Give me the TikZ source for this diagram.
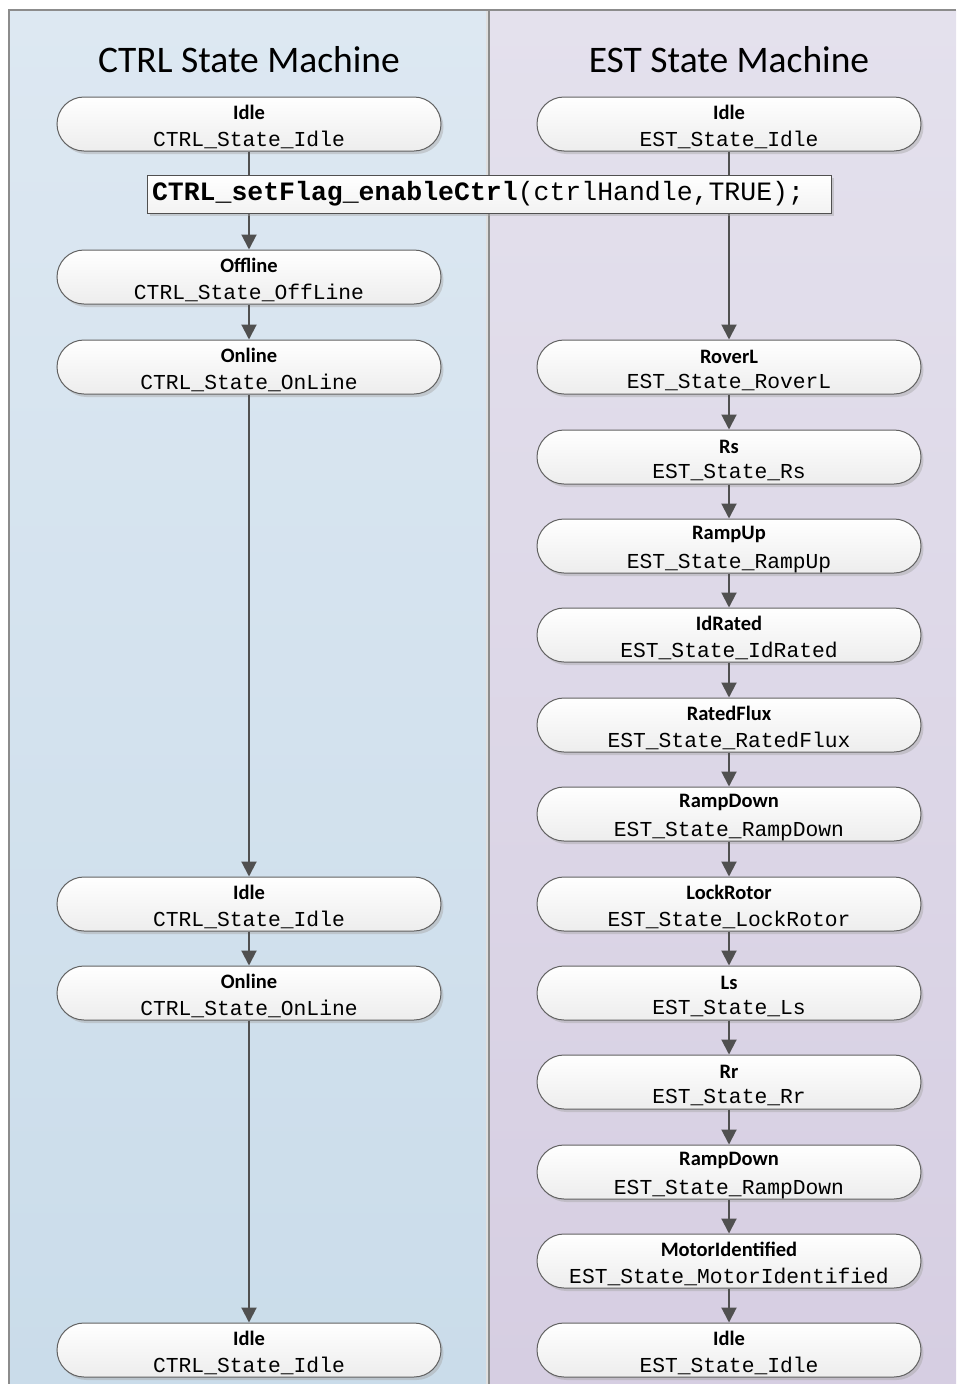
\documentclass[tikz,border=0pt]{standalone}
\usepackage{fontspec}
\setmainfont{Carlito}
\setmonofont{Liberation Mono}
\usetikzlibrary{arrows.meta,shadows}
\definecolor{ctrlcol}{HTML}{DDE8F2}
\definecolor{ctrlcolb}{HTML}{CADCEA}
\definecolor{estcol}{HTML}{E4E1ED}
\definecolor{estcolb}{HTML}{D6CEE2}
\definecolor{edgecol}{HTML}{505050}
\definecolor{framecol}{HTML}{8C8C8C}
\newcommand{\stname}[2]{{\fontsize{20.5}{21}\selectfont\bfseries\rule{0pt}{20pt}#1}\\[10pt]{\fontsize{21.3}{22}\selectfont\ttfamily #2}}

\begin{document}
\begin{tikzpicture}[x=1pt, y=-1pt,
  state/.style={draw=edgecol!90, line width=1pt, rounded corners=27pt, minimum width=384pt, minimum height=54pt, inner sep=0pt, align=center, top color=white, bottom color=black!7, drop shadow={shadow xshift=2.5pt, shadow yshift=-3pt, fill=black!35, opacity=0.45}},
  flow/.style={-{Triangle[length=15pt,width=15pt]}, line width=2pt, edgecol}]
\useasboundingbox (0,0) rectangle (956,1384);
% swim lanes
\fill[top color=ctrlcol, bottom color=ctrlcolb] (9,10) rectangle (489,1384);
\fill[top color=estcol, bottom color=estcolb] (489,10) rectangle (956,1384);
\fill[black!12] (486,10) rectangle (488,1384);
\draw[framecol, line width=1.5pt] (9,1384) -- (9,10) -- (956,10);
\draw[framecol, line width=1.5pt] (489,10) -- (489,1384);
\node[font=\fontsize{37.5}{40}\selectfont] (ctrltitle) at (249,60) {CTRL State Machine};
\node[font=\fontsize{37.5}{40}\selectfont] (esttitle) at (729,60) {EST State Machine};

% CTRL column
\node[state] (ctrlidle) at (249,124) {\stname{Idle}{CTRL\_State\_Idle}};
\node[state] (ctrloff) at (249,277) {\stname{Offline}{CTRL\_State\_OffLine}};
\node[state] (ctrlon) at (249,367) {\stname{Online}{CTRL\_State\_OnLine}};
\node[state] (ctrlidleb) at (249,904) {\stname{Idle}{CTRL\_State\_Idle}};
\node[state] (ctrlonb) at (249,993) {\stname{Online}{CTRL\_State\_OnLine}};
\node[state] (ctrlidlec) at (249,1350) {\stname{Idle}{CTRL\_State\_Idle}};

% EST column
\node[state] (estidle) at (729,124) {\stname{Idle}{EST\_State\_Idle}};
\node[state] (estroverl) at (729,367) {\stname{RoverL}{EST\_State\_RoverL}};
\node[state] (estrs) at (729,457) {\stname{Rs}{EST\_State\_Rs}};
\node[state] (estrampup) at (729,546) {\stname{RampUp}{EST\_State\_RampUp}};
\node[state] (estidrated) at (729,635) {\stname{IdRated}{EST\_State\_IdRated}};
\node[state] (estratedflux) at (729,725) {\stname{RatedFlux}{EST\_State\_RatedFlux}};
\node[state] (estrampdown) at (729,814) {\stname{RampDown}{EST\_State\_RampDown}};
\node[state] (estlockrotor) at (729,904) {\stname{LockRotor}{EST\_State\_LockRotor}};
\node[state] (estls) at (729,993) {\stname{Ls}{EST\_State\_Ls}};
\node[state] (estrr) at (729,1082) {\stname{Rr}{EST\_State\_Rr}};
\node[state] (estrampdownb) at (729,1172) {\stname{RampDown}{EST\_State\_RampDown}};
\node[state] (estmotorid) at (729,1261) {\stname{MotorIdentified}{EST\_State\_MotorIdentified}};
\node[state] (estidleb) at (729,1350) {\stname{Idle}{EST\_State\_Idle}};

\draw[flow] (ctrlidle) -- (ctrloff);
\draw[flow] (ctrloff) -- (ctrlon);
\draw[flow] (ctrlon) -- (ctrlidleb);
\draw[flow] (ctrlidleb) -- (ctrlonb);
\draw[flow] (ctrlonb) -- (ctrlidlec);
\draw[flow] (estidle) -- (estroverl);
\foreach \a/\b in {estroverl/estrs, estrs/estrampup, estrampup/estidrated, estidrated/estratedflux, estratedflux/estrampdown, estrampdown/estlockrotor, estlockrotor/estls, estls/estrr, estrr/estrampdownb, estrampdownb/estmotorid, estmotorid/estidleb}
  \draw[flow] (\a) -- (\b);

% enable call sits on top of both lines
\node[draw=edgecol, line width=1pt, text width=674pt, align=left, minimum height=38pt, inner xsep=5pt, inner ysep=0pt, top color=white, bottom color=black!5, drop shadow={shadow xshift=2.5pt, shadow yshift=-3pt, fill=black!35, opacity=0.45}, font=\fontsize{26.5}{30}\selectfont\ttfamily] (enablecall) at (489,194) {\textbf{CTRL\_setFlag\_enableCtrl}(ctrlHandle,TRUE);};
\end{tikzpicture}
\end{document}
